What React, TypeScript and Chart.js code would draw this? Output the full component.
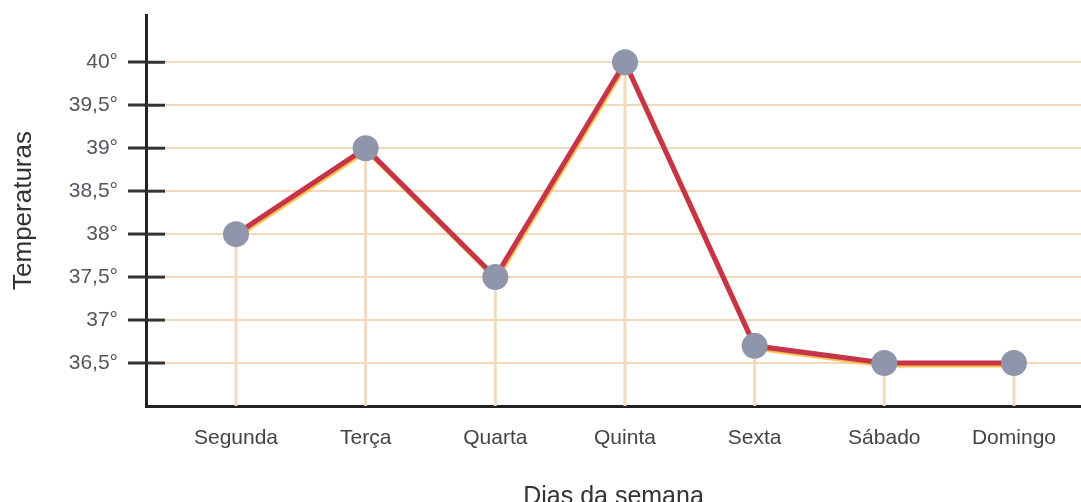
import { useEffect, useRef } from "react";
import { Chart, registerables } from "chart.js";

Chart.register(...registerables);

const days = ["Segunda", "Terça", "Quarta", "Quinta", "Sexta", "Sábado", "Domingo"];
const temperatures = [38, 39, 37.5, 40, 36.7, 36.5, 36.5];
const yTickValues = [36.5, 37, 37.5, 38, 38.5, 39, 39.5, 40];
const yTickLabels = ["36,5°", "37°", "37,5°", "38°", "38,5°", "39°", "39,5°", "40°"];

const FONT = "'Liberation Sans', Arial, Helvetica, sans-serif";

const decorPlugin = {
  id: "decor",
  beforeDatasetsDraw(chart: any) {
    const { ctx, chartArea, scales } = chart;
    const x = scales.x;
    const y = scales.y;
    ctx.save();
    ctx.strokeStyle = "#f3dabc";
    ctx.lineWidth = 3;
    temperatures.forEach((t, i) => {
      const px = x.getPixelForValue(i);
      const py = y.getPixelForValue(t);
      ctx.beginPath();
      ctx.moveTo(px, py);
      ctx.lineTo(px, chartArea.bottom);
      ctx.stroke();
    });
    ctx.strokeStyle = "#333333";
    ctx.lineWidth = 3;
    yTickValues.forEach((v) => {
      const py = y.getPixelForValue(v);
      ctx.beginPath();
      ctx.moveTo(chartArea.left, py);
      ctx.lineTo(chartArea.left + 19, py);
      ctx.stroke();
    });
    ctx.restore();
  },
  beforeDatasetDraw(chart: any, args: any) {
    if (args.index === 1) {
      const ctx = chart.ctx;
      ctx.save();
      ctx.shadowColor = "rgba(246, 186, 60, 0.95)";
      ctx.shadowOffsetX = 1;
      ctx.shadowOffsetY = 2;
      ctx.shadowBlur = 1;
    }
  },
  afterDatasetDraw(chart: any, args: any) {
    if (args.index === 1) {
      chart.ctx.restore();
    }
  },
};

export default function App() {
  const canvasRef = useRef<HTMLCanvasElement | null>(null);

  useEffect(() => {
    if (!canvasRef.current) return;
    const points = temperatures.map((t, i) => ({ x: i, y: t }));
    const chart = new Chart(canvasRef.current, {
      type: "line",
      data: {
        datasets: [
          {
            data: points,
            showLine: false,
            pointRadius: 13,
            pointHoverRadius: 13,
            pointBackgroundColor: "#8f95ab",
            pointBorderWidth: 0,
            pointBorderColor: "#8f95ab",
          },
          {
            data: points,
            borderColor: "#c5344b",
            borderWidth: 5,
            pointRadius: 0,
            pointHoverRadius: 0,
            fill: false,
            tension: 0,
          },
        ],
      },
      options: {
        responsive: false,
        animation: false,
        events: [],
        layout: { autoPadding: false, padding: { top: 15, left: 0, right: 0, bottom: 0 } },
        plugins: {
          legend: { display: false },
          tooltip: { enabled: false },
        },
        scales: {
          x: {
            type: "linear",
            min: -0.694,
            max: 6.517,
            afterBuildTicks: (s: any) => {
              s.ticks = days.map((_, i) => ({ value: i }));
            },
            afterFit: (s: any) => {
              s.height = 96;
              s.paddingLeft = 0;
              s.paddingRight = 0;
            },
            grid: { display: false, drawTicks: false },
            border: { display: true, color: "#222222", width: 3 },
            ticks: {
              autoSkip: false,
              maxRotation: 0,
              padding: 20,
              color: "#444444",
              font: { family: FONT, size: 21 },
              callback: (v: any) => days[Math.round(Number(v))] ?? "",
            },
            title: {
              display: true,
              text: "Dias da semana",
              color: "#333333",
              font: { family: FONT, size: 25, lineHeight: 0.4 },
              padding: 0,
            },
          },
          y: {
            type: "linear",
            min: 36,
            max: 40.55,
            afterBuildTicks: (s: any) => {
              s.ticks = yTickValues.map((v) => ({ value: v }));
            },
            afterFit: (s: any) => {
              s.width = 146;
              s.paddingTop = 0;
              s.paddingBottom = 0;
            },
            grid: {
              color: "#f2d9ba",
              lineWidth: 2,
              tickColor: "#333333",
              tickLength: 18,
              tickWidth: 3,
            },
            border: { display: true, color: "#222222", width: 3 },
            ticks: {
              padding: 10,
              color: "#555560",
              font: { family: FONT, size: 21 },
              callback: (v: any) => {
                const idx = yTickValues.indexOf(Number(v));
                return idx >= 0 ? yTickLabels[idx] : "";
              },
            },
            title: {
              display: true,
              text: "Temperaturas",
              color: "#333333",
              font: { family: FONT, size: 26, lineHeight: 1.2 },
              padding: { top: 8, bottom: 0 },
            },
          },
        },
      },
      plugins: [decorPlugin],
    });
    return () => chart.destroy();
  }, []);

  return (
    <div style={{ position: "absolute", left: 0, top: 0, width: 1081, height: 502, background: "#ffffff" }}>
      <canvas ref={canvasRef} width={1081} height={502} style={{ display: "block" }} />
    </div>
  );
}
